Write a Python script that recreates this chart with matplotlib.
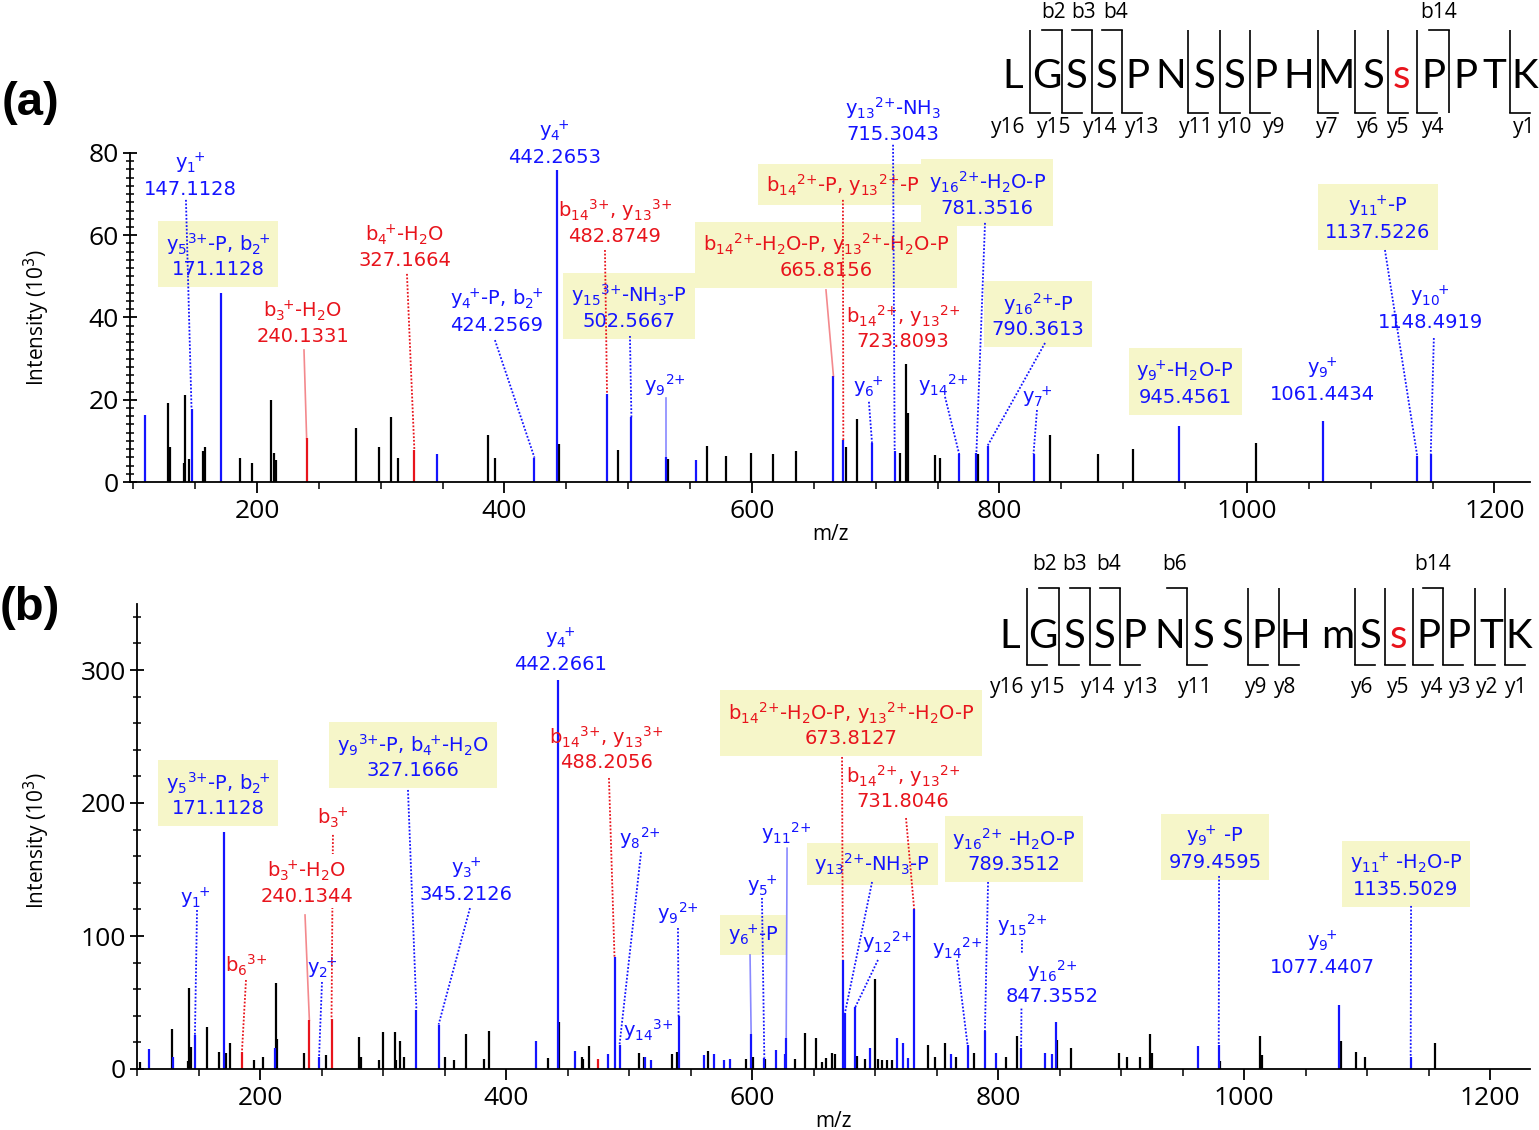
import numpy as np
import matplotlib.pyplot as plt
from matplotlib.ticker import MultipleLocator

plt.rcParams['font.family'] = ['Open Sans', 'DejaVu Sans']
plt.rcParams['mathtext.fontset'] = 'dejavusans'

BLUE = '#1414ff'
RED = '#e8141c'
BOX = '#f6f6c9'

# ---------------- panel (a): peaks, m/z vs intensity (x10^3) ----------------
a_other_mz = [128, 129.4, 141, 142, 145.3, 156.3, 157.7, 186, 196, 211.3, 214, 215.4, 280.3,
              298.7, 308.4, 314, 386.3, 392, 444.3, 492, 531.8, 563.8, 579, 599, 617, 635.3,
              675.8, 685, 720, 724.5, 725.8, 748, 752, 783, 840.5, 879.5, 907.5, 1007]
a_other_int = [19.1, 8.4, 4.7, 21.2, 5.5, 7.5, 8.4, 5.8, 4.7, 20, 7.1, 5.4, 13.1,
               8.4, 15.8, 5.9, 11.4, 5.9, 9.2, 7.9, 5.5, 8.8, 6.3, 7.1, 6.7, 7.5,
               8.6, 15.2, 7.0, 28.6, 16.7, 6.6, 5.8, 6.7, 11.4, 6.8, 8.0, 9.6]
a_y_mz = [109.7, 147.11, 171.11, 345.5, 424.26, 442.27, 482.87, 502.57, 530.5, 555, 665.82,
          673.8, 697, 715.30, 767.5, 781.35, 790.36, 827.5, 945.46, 1061.44, 1137.52, 1148.49]
a_y_int = [16.2, 17.8, 45.9, 6.8, 5.9, 75.8, 21.5, 15.7, 6.1, 5.4, 25.8,
           10.2, 9.5, 7.5, 6.7, 7.0, 8.8, 6.8, 13.7, 14.9, 6.4, 6.8]
a_b_mz = [240.13, 327.17]
a_b_int = [10.6, 7.9]

# ---------------- panel (b) ----------------
b_other_mz = [102.6, 128.5, 141.3, 142.4, 143.5, 156.6, 166.7, 172, 175.4, 195.4,
              202.5, 212.6, 213.6, 235.5, 254, 280.8, 281.9, 296.6, 299.6, 309.4,
              310.5, 313.8, 316.8, 350.5, 357.8, 367.6, 382, 386.3, 434.5, 443,
              461.6, 463, 467.7, 508, 512, 534.8, 538.9, 564.6, 594.8, 600.5,
              610.7, 634.7, 643.2, 652, 657, 659.8, 665, 667.8, 685.5, 691.5,
              700.3, 702.7, 706, 709.8, 714, 742.7, 748.7, 757, 765.8, 780.5,
              806.8, 815.8, 848.1, 859.3, 898, 905.2, 915.3, 923.6, 925, 980.7,
              1013.3, 1014.8, 1079, 1091, 1098.6, 1154.9]
b_other_int = [5, 30, 6.3, 60.7, 16.3, 31.3, 13, 11.8, 19.5, 6.8,
               9.3, 64.4, 22.6, 11.8, 10.5, 23.8, 9.3, 6.8, 27.6, 27.6,
               6.8, 21.3, 9.3, 9.3, 6.8, 26, 7.8, 28.8, 8, 35.6,
               9.3, 7.5, 17.5, 11.8, 9.3, 11.5, 13, 13.5, 7.5, 9,
               7.5, 7.5, 27.2, 23.4, 5.5, 8.6, 12.3, 11, 9.5, 7.5,
               68, 7.5, 7, 7, 7, 18, 9, 19.4, 9, 11.8,
               9.3, 25, 22, 15.8, 11.8, 8.8, 9.3, 26.3, 11.8, 6.3,
               25, 10.5, 20.8, 13, 9.3, 19.5]
b_y_mz = [110, 129.6, 147.1, 171.11, 212.3, 248, 327.17, 345.21, 424.4, 442.27,
          455.9, 483.3, 488.21, 492.3, 512.9, 518, 540.3, 560.7, 569, 577.3,
          581.8, 599.3, 610, 619.1, 626.8, 627.8, 673.81, 675.5, 684, 696,
          717.5, 722.8, 726.7, 731.80, 761.7, 775.2, 789.35, 798, 818.8, 838.3,
          844, 847.36, 962.6, 979.46, 1077.44, 1135.50]
b_y_int = [15, 9.3, 25.8, 178.4, 15.8, 8.8, 44.4, 33.4, 21.3, 292.5,
           13.8, 11.3, 84, 18.3, 9.3, 7, 39.6, 10.2, 11.3, 6.5,
           7.5, 26, 8.5, 14, 11.5, 23.4, 82.3, 41.8, 46.6, 15.6,
           23.4, 19.6, 8.4, 120.4, 11.4, 18.2, 28.3, 11.8, 15.8, 11.8,
           11.3, 35.5, 17.5, 18.3, 48.3, 8.8]
b_b_mz = [185.3, 240.13, 258.14, 474.5]
b_b_int = [12.5, 36.8, 37.3, 7.5]


def ion(kind, num, charge=''):
    # fragment name like y13(2+): subscript number then superscript charge
    sup = '%s{+}' % charge if charge else r'\!{+}'
    return '%s$_{%s}{}^{%s}$' % (kind, num, sup)


# labels: text, colour, label x (m/z), label y (intensity), box, link (start x, start y, peak m/z, style)
a_labels = [
    (ion('y', 1) + '\n147.1128', 'b', 145.9, 74.7, None, (142.6, 68.6, 147.11, ':')),
    (ion('y', 5, 3) + '-P, ' + ion('b', 2) + '\n171.1128', 'b', 168.5, 55.2, 'y', None),
    (ion('b', 3) + '-H$_2$O\n240.1331', 'r', 237.2, 38.9, None, (238.0, 32.1, 240.13, '-')),
    (ion('b', 4) + '-H$_2$O\n327.1664', 'r', 319.6, 57.4, None, (321.2, 50.6, 327.17, ':')),
    (ion('y', 4) + '-P, ' + ion('b', 2) + '\n424.2569', 'b', 394.0, 41.6, None, (392.3, 34.5, 424.26, ':')),
    (ion('y', 4) + '\n442.2653', 'b', 440.8, 82.5, None, None),
    (ion('b', 14, 3) + ', ' + ion('y', 13, 3) + '\n482.8749', 'r', 489.3, 63.3, None,
     (481.2, 56.4, 482.87, ':')),
    (ion('y', 15, 3) + '-NH$_3$-P\n502.5667', 'b', 500.6, 42.6, 'y', (501.4, 35.5, 502.57, ':')),
    (ion('y', 9, 2), 'b', 529.7, 23.6, None, (530.5, 20.4, 530.5, '-')),
    (ion('b', 14, 2) + '-H$_2$O-P, ' + ion('y', 13, 2) + '-H$_2$O-P\n665.8156', 'r', 659.8, 55.0, 'y',
     (659.8, 46.7, 665.82, '-')),
    (ion('b', 14, 2) + '-P, ' + ion('y', 13, 2) + '-P', 'r', 673.3, 72.3, 'y', (673.5, 68.6, 673.8, ':')),
    (ion('y', 16, 2) + '-H$_2$O-P\n781.3516', 'b', 790.0, 70.1, 'y', (788.3, 63.0, 781.35, ':')),
    (ion('y', 13, 2) + '-NH$_3$\n715.3043', 'b', 714.0, 88.1, None, (714.0, 82.0, 715.30, ':')),
    (ion('b', 14, 2) + ', ' + ion('y', 13, 2) + '\n723.8093', 'r', 722.0, 37.7, None, None),
    (ion('y', 6), 'b', 694.5, 22.9, None, (694.5, 19.5, 697, ':')),
    (ion('y', 14, 2), 'b', 754.3, 23.6, None, (756.0, 20.7, 767.5, ':')),
    (ion('y', 16, 2) + '-P\n790.3613', 'b', 831.0, 40.6, 'y', (836.8, 33.8, 790.36, ':')),
    (ion('y', 7), 'b', 830.3, 20.7, None, (830.3, 17.5, 827.5, ':')),
    (ion('y', 9) + '-H$_2$O-P\n945.4561', 'b', 950.0, 24.1, 'y', None),
    (ion('y', 9) + '\n1061.4434', 'b', 1060.6, 24.8, None, None),
    (ion('y', 11) + '-P\n1137.5226', 'b', 1105.9, 64.2, 'y', (1111.5, 56.4, 1137.52, ':')),
    (ion('y', 10) + '\n1148.4919', 'b', 1147.9, 42.3, None, (1151.0, 35.0, 1148.49, ':')),
]

b_labels = [
    (ion('y', 1), 'b', 147.2, 128.6, None, (148.8, 119.5, 147.1, ':')),
    (ion('y', 5, 3) + '-P, ' + ion('b', 2) + '\n171.1128', 'b', 165.9, 206.8, 'y', None),
    (ion('b', 6, 3), 'r', 188.6, 78.2, None, (188.6, 66.9, 185.3, ':')),
    (ion('b', 3), 'r', 259.3, 188.7, None, (259.3, 176.0, 258.14, ':')),
    (ion('b', 3) + '-H$_2$O\n240.1344', 'r', 238.2, 140.6, 'w', (236.6, 115.8, 240.13, '-')),
    (ion('y', 2), 'b', 250.4, 76.0, None, (250.4, 65.4, 248, ':')),
    (ion('y', 9, 3) + '-P, ' + ion('b', 4) + '-H$_2$O\n327.1666', 'b', 324.4, 235.3, 'y',
     (320.3, 209.8, 327.17, ':')),
    (ion('y', 3) + '\n345.2126', 'b', 367.5, 142.0, None, (370.7, 121.0, 345.21, ':')),
    (ion('y', 4) + '\n442.2661', 'b', 443.9, 315.0, None, None),
    (ion('b', 14, 3) + ', ' + ion('y', 13, 3) + '\n488.2056', 'r', 481.3, 241.4, None,
     (483.7, 218.8, 488.21, ':')),
    (ion('y', 8, 2), 'b', 509.0, 173.7, None, (509.8, 163.0, 492.3, ':')),
    (ion('y', 14, 3), 'b', 515.4, 29.3, None, None),
    (ion('y', 9, 2), 'b', 539.8, 117.3, None, (539.8, 106.0, 540.3, ':')),
    (ion('y', 5), 'b', 608.1, 137.6, None, (608.1, 128.6, 610, ':')),
    (ion('y', 6) + '-P', 'b', 600.8, 100.8, 'y', (598.4, 85.7, 599.3, '-')),
    (ion('y', 11, 2), 'b', 627.6, 177.4, None, (628.5, 166.0, 627.8, '-')),
    (ion('b', 14, 2) + '-H$_2$O-P, ' + ion('y', 13, 2) + '-H$_2$O-P\n673.8127', 'r', 680.5, 259.4, 'y',
     (673.2, 234.6, 673.81, ':')),
    (ion('b', 14, 2) + ', ' + ion('y', 13, 2) + '\n731.8046', 'r', 722.8, 212.0, None,
     (725.2, 188.7, 731.80, ':')),
    (ion('y', 13, 2) + '-NH$_3$-P', 'b', 697.6, 154.0, 'y', (697.6, 140.6, 675.5, ':')),
    (ion('y', 12, 2), 'b', 709.8, 95.5, None, (702.4, 82.0, 684, ':')),
    (ion('y', 16, 2) + ' -H$_2$O-P\n789.3512', 'b', 813.0, 164.7, 'y', (791.9, 140.6, 789.35, ':')),
    (ion('y', 14, 2), 'b', 766.7, 91.0, None, (766.7, 82.0, 775.2, ':')),
    (ion('y', 15, 2), 'b', 819.5, 108.0, None, (819.5, 97.0, 818.8, ':')),
    (ion('y', 16, 2) + '\n847.3552', 'b', 843.9, 65.4, 'w', None),
    (ion('y', 9) + ' -P\n979.4595', 'b', 976.4, 166.0, 'y', (979.7, 145.1, 979.46, ':')),
    (ion('y', 9) + '\n1077.4407', 'b', 1063.4, 87.2, None, None),
    (ion('y', 11) + ' -H$_2$O-P\n1135.5029', 'b', 1131.7, 145.9, 'y', (1135.8, 122.6, 1135.50, ':')),
]

# peptide sequences and observed cleavage sites (after residue i)
a_seq = list('LGSSPNSSPHMSsPPTK')
a_b_sites = [2, 3, 4, 14]
a_y_sites = [1, 2, 3, 4, 6, 7, 8, 10, 11, 12, 13, 16]
b_seq = list('LGSSPNSSPHmSsPPTK')
b_b_sites = [2, 3, 4, 6, 14]
b_y_sites = [1, 2, 3, 4, 6, 8, 9, 11, 12, 13, 14, 15, 16]

# horizontal placement of the sequence letters and fragment names (figure pixels)
a_letter_x = [1013, 1047, 1077, 1107, 1137, 1171, 1205, 1235, 1265, 1299, 1336, 1374, 1401,
              1433, 1465, 1494, 1525]
a_b_lab_x = [1054, 1084, 1116, 1439]
a_y_lab_x = [1008, 1054, 1100, 1142, 1196, 1235, 1274, 1327, 1368, 1398, 1433, 1524]
b_letter_x = [1010, 1043, 1075, 1105, 1134, 1170, 1204, 1233, 1263, 1295, 1338, 1371, 1398,
              1428, 1458, 1491, 1519]
b_b_lab_x = [1045, 1075, 1109, 1175, 1433]
b_y_lab_x = [1007, 1048, 1098, 1141, 1195, 1256, 1285, 1362, 1398, 1432, 1460, 1487, 1516]


def draw_spectrum(ax, peaks, labels):
    for mz, inten, col in peaks:
        ax.vlines(mz, 0, inten, colors=col, lw=1.6, zorder=2)
    all_mz = np.concatenate([np.asarray(p[0], float) for p in peaks])
    all_int = np.concatenate([np.asarray(p[1], float) for p in peaks])
    for txt, col, x, y, box, link in labels:
        c = BLUE if col == 'b' else RED
        bb = None
        z = 4
        if box == 'y':
            bb = dict(boxstyle='square,pad=0.4', fc=BOX, ec='none')
        elif box == 'w':
            bb = dict(boxstyle='square,pad=0.1', fc='white', ec='none')
            z = 6
        ax.text(x, y, txt, color=c, ha='center', va='center', fontsize=14,
                family='DejaVu Sans', linespacing=1.25, bbox=bb, zorder=z, clip_on=False)
        if link is not None:
            sx, sy, target, style = link
            i = np.argmin(np.abs(all_mz - target))
            if style == ':':
                ax.plot([sx, all_mz[i]], [sy, all_int[i]], color=c, lw=1.3,
                        ls=(0, (1, 1)), zorder=5, clip_on=False)
            else:
                ax.plot([sx, all_mz[i]], [sy, all_int[i]], color=c, lw=1.2,
                        alpha=0.5, zorder=5, clip_on=False)


def style_axes(ax, xlim, ylim, ymaj, ymin):
    ax.set_xlim(*xlim)
    ax.set_ylim(*ylim)
    ax.xaxis.set_major_locator(MultipleLocator(200))
    ax.xaxis.set_minor_locator(MultipleLocator(50))
    ax.yaxis.set_major_locator(MultipleLocator(ymaj))
    ax.yaxis.set_minor_locator(MultipleLocator(ymin))
    for s in ['top', 'right']:
        ax.spines[s].set_visible(False)
    for s in ['left', 'bottom']:
        ax.spines[s].set_linewidth(1.3)
    ax.tick_params(axis='x', which='major', direction='out', length=8, width=1.3, labelsize=19, pad=4)
    ax.tick_params(axis='x', which='minor', direction='out', length=5, width=1.1)
    ax.tick_params(axis='y', which='major', direction='inout', length=10, width=1.3, labelsize=19, pad=3)
    ax.tick_params(axis='y', which='minor', direction='inout', length=6, width=1.1)
    ax.set_xlabel('m/z', fontsize=15, labelpad=0)
    ax.set_ylabel('Intensity (10$^3$)', fontsize=15)


def draw_sequence(fig, y0, height, seq, letter_x, b_sites, y_sites, b_lab_x, y_lab_x, rows):
    brow, top, base, bot, yrow = rows
    left = 985
    sax = fig.add_axes([left / W, 1 - (y0 + height) / H, (W - left) / W, height / H])
    sax.set_xlim(left, W)
    sax.set_ylim(height, 0)
    sax.axis('off')
    for xc, r in zip(letter_x, seq):
        sax.text(xc, base, r, ha='center', va='baseline', fontsize=29, family='Lato',
                 color=RED if r == 's' else 'black')
    hook = 20
    for s in sorted(set(b_sites) | set(y_sites)):
        x = 0.5 * (letter_x[s - 1] + letter_x[s])
        sax.plot([x, x], [top, bot], color='black', lw=1.2, solid_capstyle='butt')
        if s in b_sites:
            sax.plot([x - hook, x], [top, top], color='black', lw=1.2)
        if s in y_sites:
            sax.plot([x, x + hook], [bot, bot], color='black', lw=1.2)
    for s, u in zip(b_sites, b_lab_x):
        sax.text(u, brow, 'b%d' % s, ha='center', va='center', fontsize=15)
    for s, u in zip(y_sites, y_lab_x):
        sax.text(u, yrow, 'y%d' % (len(seq) - s), ha='center', va='center', fontsize=15)


W, H = 1539, 1130
fig = plt.figure(figsize=(W / 100, H / 100), dpi=100)

ax1 = fig.add_axes([130 / W, 1 - 482 / H, 1400 / W, 329 / H])
draw_spectrum(ax1, [(a_other_mz, a_other_int, 'black'), (a_y_mz, a_y_int, BLUE),
                    (a_b_mz, a_b_int, RED)], a_labels)
style_axes(ax1, (97.4, 1228.7), (0, 80), 20, 2)
ax1.yaxis.set_label_coords(-0.056, 0.5)

ax2 = fig.add_axes([137 / W, 1 - 1069 / H, 1393 / W, 465.5 / H])
draw_spectrum(ax2, [(b_other_mz, b_other_int, 'black'), (b_y_mz, b_y_int, BLUE),
                    (b_b_mz, b_b_int, RED)], b_labels)
style_axes(ax2, (100, 1232.5), (0, 350), 100, 20)
ax2.yaxis.set_label_coords(-0.061, 0.49)

fig.text(30 / W, 1 - 103 / H, '(a)', fontsize=34, fontweight='bold',
         family='Liberation Sans', ha='center', va='center')
fig.text(30 / W, 1 - 608 / H, '(b)', fontsize=34, fontweight='bold',
         family='Liberation Sans', ha='center', va='center')

# sequence diagrams (rows in pixels from the top of each strip)
draw_sequence(fig, 0, 145, a_seq, a_letter_x, a_b_sites, a_y_sites, a_b_lab_x, a_y_lab_x,
              (12, 30, 88, 113, 127))
draw_sequence(fig, 545, 160, b_seq, b_letter_x, b_b_sites, b_y_sites, b_b_lab_x, b_y_lab_x,
              (20, 43, 103, 120, 143))

fig.savefig('out.png', dpi=100)
